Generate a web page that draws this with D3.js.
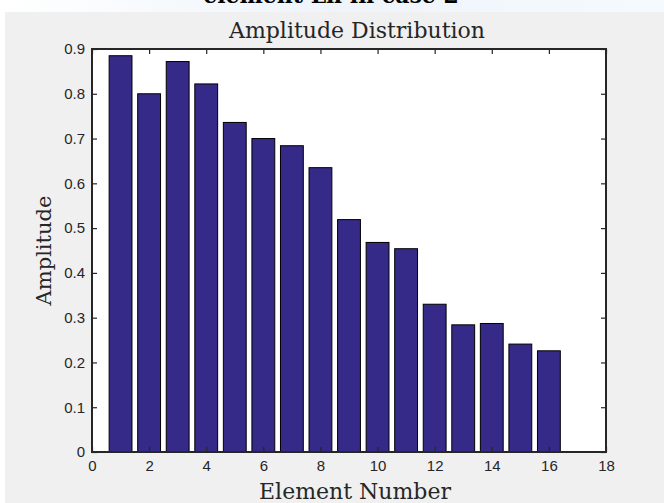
<!DOCTYPE html>
<html>
<head>
<meta charset="utf-8">
<script src="https://cdn.jsdelivr.net/npm/d3@7"></script>
<style>
  html, body { margin: 0; padding: 0; background: #fff; }
  svg { display: block; }
  .serif { font-family: "DejaVu Serif", serif; fill: #262626; }
</style>
</head>
<body>
<div id="chart"></div>
<script>
const elements = d3.range(1, 17);
const amplitudes = [0.885, 0.800, 0.872, 0.822, 0.736, 0.700, 0.684, 0.635,
                    0.519, 0.468, 0.454, 0.330, 0.284, 0.287, 0.241, 0.226];
const xTicks = [0, 2, 4, 6, 8, 10, 12, 14, 16, 18];
const yTicks = [0, 0.1, 0.2, 0.3, 0.4, 0.5, 0.6, 0.7, 0.8, 0.9];

const width = 664, height = 503;
const plot = { left: 92, right: 606, top: 49, bottom: 452 };

const svg = d3.select("#chart").append("svg")
  .attr("width", width)
  .attr("height", height);

// page bits around the figure (cut-off heading + faint watermark)
const grad = svg.append("defs").append("linearGradient")
  .attr("id", "wm").attr("x1", "0").attr("x2", "1");
grad.append("stop").attr("offset", "0").attr("stop-color", "#fff");
grad.append("stop").attr("offset", "0.5").attr("stop-color", "#eef4fa");
grad.append("stop").attr("offset", "1").attr("stop-color", "#f4fafd");
svg.append("rect").attr("width", width).attr("height", 12).attr("fill", "url(#wm)");

svg.append("text")
  .attr("x", 331).attr("y", 3)
  .attr("text-anchor", "middle")
  .style("font-family", "'DejaVu Serif', serif")
  .style("font-weight", "bold")
  .style("font-size", "22px")
  .attr("fill", "#000")
  .text("element Ln in case 2");

// figure background
svg.append("rect")
  .attr("x", 5).attr("y", 12)
  .attr("width", width - 5).attr("height", height - 12)
  .attr("fill", "#f0f0f0");

const x = d3.scaleLinear().domain([0, 18]).range([plot.left, plot.right]);
const y = d3.scaleLinear().domain([0, 0.9]).range([plot.bottom, plot.top]);

svg.append("rect")
  .attr("x", plot.left).attr("y", plot.top)
  .attr("width", plot.right - plot.left).attr("height", plot.bottom - plot.top)
  .attr("fill", "#fff");

const barW = x(0.8) - x(0);
svg.append("g").selectAll("rect")
  .data(elements)
  .join("rect")
  .attr("x", (d) => x(d) - barW / 2)
  .attr("y", (d, i) => y(amplitudes[i]))
  .attr("width", barW)
  .attr("height", (d, i) => y(0) - y(amplitudes[i]))
  .attr("fill", "#352a87")
  .attr("stroke", "#000")
  .attr("stroke-width", 1);

function styleAxis(g) {
  g.select(".domain").remove();
  g.selectAll(".tick line").attr("stroke", "#262626").attr("stroke-width", 1.2);
  g.selectAll(".tick text")
    .style("font-family", "'Liberation Sans', Arial, sans-serif")
    .style("font-size", "15px")
    .attr("fill", "#262626");
}

svg.append("g")
  .attr("transform", `translate(${plot.left},0)`)
  .call(d3.axisLeft(y).tickValues(yTicks).tickSize(-5).tickPadding(7)
    .tickFormat((d) => d === 0 ? "0" : d3.format(".1f")(d)))
  .call(styleAxis);

svg.append("g")
  .attr("transform", `translate(${plot.right},0)`)
  .call(d3.axisRight(y).tickValues(yTicks).tickSize(-5).tickFormat(""))
  .call(styleAxis);

svg.append("g")
  .attr("transform", `translate(0,${plot.bottom})`)
  .call(d3.axisBottom(x).tickValues(xTicks).tickSize(-5).tickPadding(8))
  .call(styleAxis);

svg.append("g")
  .attr("transform", `translate(0,${plot.top})`)
  .call(d3.axisTop(x).tickValues(xTicks).tickSize(-5).tickFormat(""))
  .call(styleAxis);

// box
svg.append("rect")
  .attr("x", plot.left).attr("y", plot.top)
  .attr("width", plot.right - plot.left).attr("height", plot.bottom - plot.top)
  .attr("fill", "none")
  .attr("stroke", "#262626")
  .attr("stroke-width", 2);

svg.append("text")
  .attr("class", "serif")
  .attr("x", 357).attr("y", 38)
  .attr("text-anchor", "middle")
  .style("font-size", "22px")
  .attr("fill", "#000")
  .text("Amplitude Distribution");

svg.append("text")
  .attr("class", "serif")
  .attr("x", 355).attr("y", 499)
  .attr("text-anchor", "middle")
  .style("font-size", "22px")
  .text("Element Number");

svg.append("text")
  .attr("class", "serif")
  .attr("transform", `translate(51,${(plot.top + plot.bottom) / 2}) rotate(-90)`)
  .attr("text-anchor", "middle")
  .style("font-size", "21px")
  .text("Amplitude");
</script>
</body>
</html>
